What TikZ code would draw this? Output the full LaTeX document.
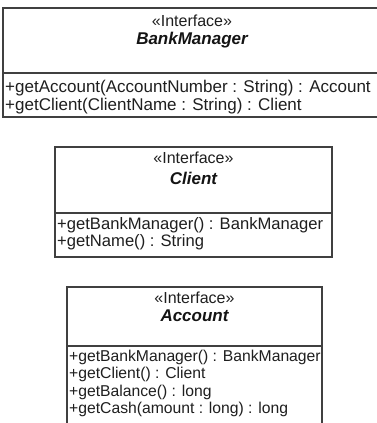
\documentclass[tikz,border=0pt]{standalone}
\usepackage{fontspec}
\setmainfont{Liberation Sans}
\begin{document}
\begin{tikzpicture}[x=1pt,y=-1pt,
  frame/.style={draw=black!75, line width=1.3pt},
  stereo/.style={inner sep=0pt, text=black!88, font=\fontsize{16}{18}\selectfont},
  title/.style={inner sep=0pt, text=black!92, font=\fontsize{17}{18}\selectfont\bfseries\itshape},
  meth/.style={inner sep=0pt, anchor=west, text=black!88, font=\fontsize{17}{18}\selectfont},
  methmid/.style={inner sep=0pt, anchor=west, text=black!88, font=\fontsize{16.6}{18}\selectfont},
  methsmall/.style={inner sep=0pt, anchor=west, text=black!88, font=\fontsize{15.7}{17}\selectfont}]
\useasboundingbox (0,0) rectangle (377,423);
\fill[white] (0,0) rectangle (377,423);
\clip (0,0) rectangle (377,423);
% BankManager
\draw[frame] (3,8) rectangle (381,117);
\draw[frame] (3,73) -- (381,73);
\node[stereo] (bmS) at (192,21) {«Interface»};
\node[title] (bmT) at (192,40) {BankManager};
\node[meth] (bm1) at (5,88) {+getAccount(AccountNumber : String) : Account};
\node[meth] (bm2) at (5,106) {+getClient(ClientName : String) : Client};
% Client
\draw[frame] (55,147) rectangle (332,257);
\draw[frame] (55,213) -- (332,213);
\node[stereo] (clS) at (193.5,158) {«Interface»};
\node[title] (clT) at (193.5,178) {Client};
\node[methmid] (cl1) at (57,225) {+getBankManager() : BankManager};
\node[methmid] (cl2) at (57,242) {+getName() : String};
% Account
\draw[frame] (67,430) -- (67,287) -- (322,287) -- (322,430);
\draw[frame] (67,346) -- (322,346);
\node[stereo] (acS) at (194.5,298) {«Interface»};
\node[title] (acT) at (194.5,316) {Account};
\node[methsmall] (ac1) at (69,357) {+getBankManager() : BankManager};
\node[methsmall] (ac2) at (69,374) {+getClient() : Client};
\node[methsmall] (ac3) at (69,392) {+getBalance() : long};
\node[methsmall] (ac4) at (69,409) {+getCash(amount : long) : long};
\end{tikzpicture}
\end{document}
